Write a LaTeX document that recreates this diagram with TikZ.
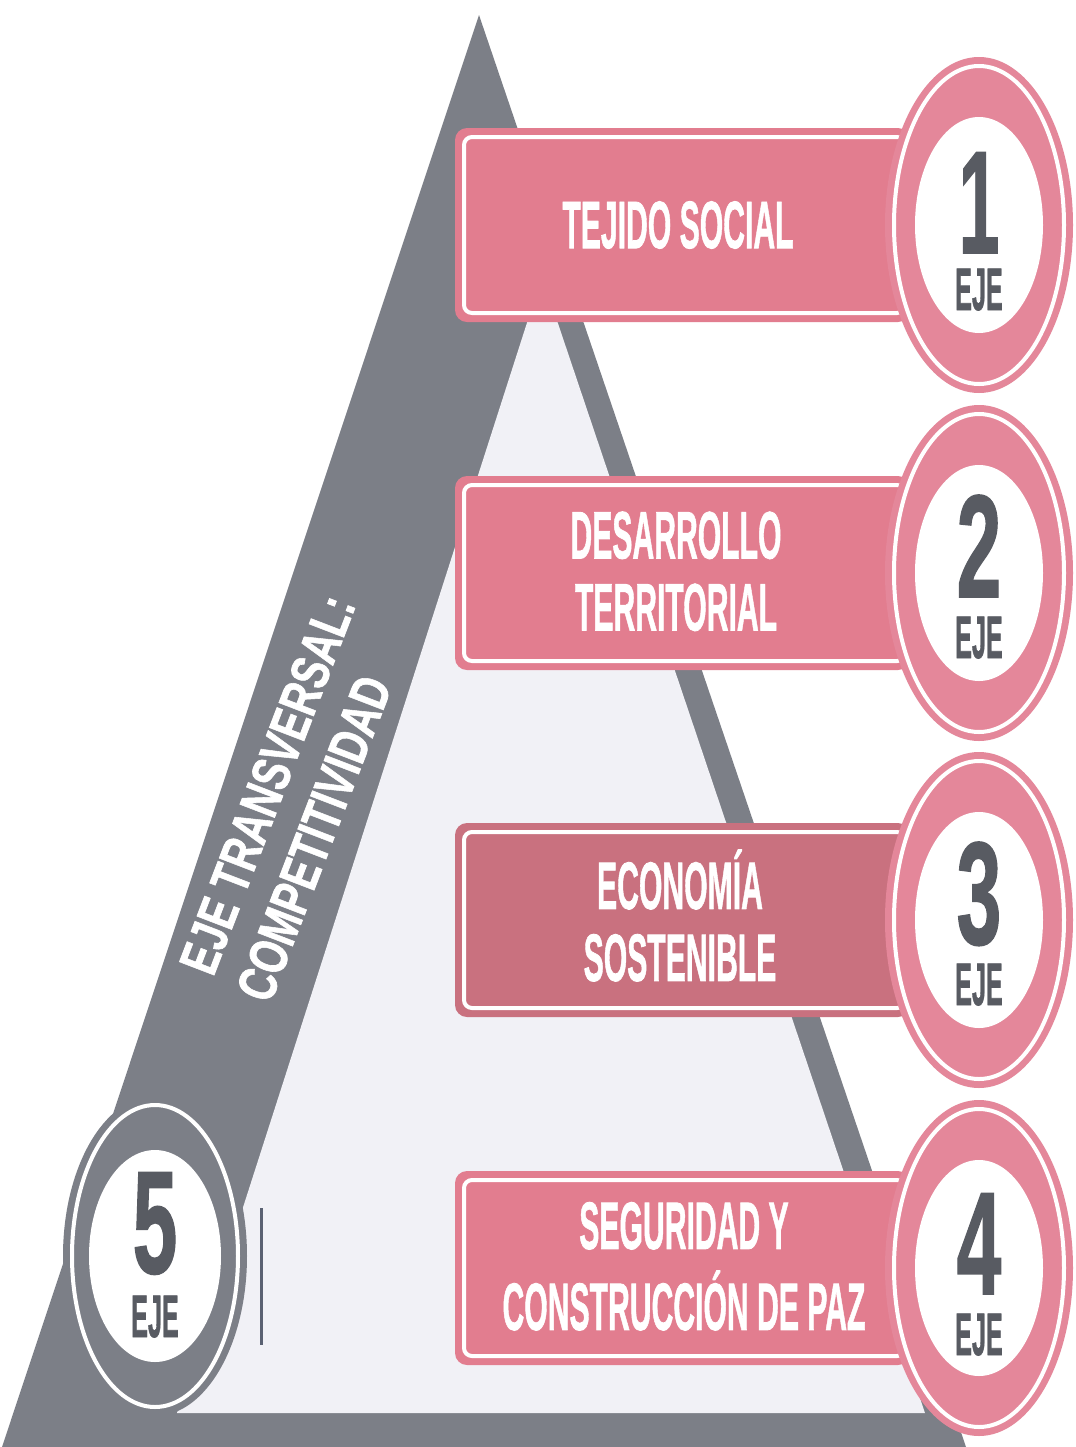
\documentclass[tikz,border=0pt]{standalone}
\usepackage{fontspec}
\usepackage{graphicx}
\newfontfamily\hv{Liberation Sans}[FakeBold=1.3]
\definecolor{trigray}{HTML}{7C7F87}
\definecolor{innerbg}{HTML}{F1F1F6}
\definecolor{boxpink}{HTML}{E27D8F}
\definecolor{boxmauve}{HTML}{C9717F}
\definecolor{ringpink}{HTML}{E4879A}
\definecolor{digitgray}{HTML}{585B62}
\definecolor{streak}{HTML}{5A6172}
\newcommand\sq[2]{\scalebox{#1}[1]{#2}}
\tikzset{
  boxtxt/.style={text=white, inner sep=0pt, font=\hv\bfseries\fontsize{33.5}{36}\selectfont},
  digit/.style={text=digitgray, inner sep=0pt, anchor=base, font=\hv\bfseries\fontsize{73}{80}\selectfont},
  ejetxt/.style={text=digitgray, inner sep=0pt, anchor=base, font=\hv\bfseries\fontsize{30}{32}\selectfont},
  diagtxt/.style={text=white, inner sep=0pt, anchor=base west, rotate=69, font=\hv\bfseries\fontsize{27}{29}\selectfont},
}
\begin{document}
\begin{tikzpicture}[x=0.5pt,y=-0.5pt]
\useasboundingbox (0,0) rectangle (1076,1447);
\fill[white] (0,0) rectangle (1076,1447);
% triangle
\fill[trigray] (479,15) -- (2,1447) -- (966,1447) -- cycle;
\fill[innerbg] (542,276) -- (177,1413) -- (925,1413) -- cycle;
\draw[streak, line width=1.5pt] (261,1208) -- (261,1345);
% boxes and circles
\foreach \cy/\bc in {225/boxpink, 573/boxpink, 920/boxmauve, 1268/boxpink}{
  \fill[\bc, rounded corners=6pt] (455,\cy-97) rectangle (910,\cy+97);
  \draw[white, line width=2pt, rounded corners=4pt] (464,\cy-88) rectangle (905,\cy+88);
  \fill[ringpink] (979,\cy) ellipse [x radius=94, y radius=168];
  \draw[white, line width=2pt] (979,\cy) ellipse [x radius=85, y radius=159];
  \fill[white] (979,\cy) ellipse [x radius=64, y radius=108];
}
% circle 5
\fill[trigray] (155,1256) ellipse [x radius=92, y radius=160];
\draw[white, line width=2pt] (155,1256) ellipse [x radius=83, y radius=151];
\fill[white] (155,1256) ellipse [x radius=66, y radius=106];
% box texts
\node[boxtxt] (t1) at (678,225) {\sq{0.45}{TEJIDO SOCIAL}};
\node[boxtxt] (t2) at (676,580) {\sq{0.45}{\begin{tabular}{@{}c@{}}DESARROLLO\\TERRITORIAL\end{tabular}}};
\node[boxtxt] (t3) at (680,926) {\sq{0.45}{\begin{tabular}{@{}c@{}}ECONOMÍA\\SOSTENIBLE\end{tabular}}};
\node[boxtxt] (t4) at (684,1275) {\sq{0.45}{\begin{tabular}{@{}c@{}}SEGURIDAD Y\\CONSTRUCCIÓN DE PAZ\end{tabular}}};
% circle texts
\node[digit] (d1) at (979,253) {\sq{0.5}{1}};
\node[ejetxt] (e1) at (979,310) {\sq{0.42}{EJE}};
\node[digit] (d2) at (979,597) {\sq{0.55}{2}};
\node[ejetxt] (e2) at (979,658) {\sq{0.42}{EJE}};
\node[digit] (d3) at (979,944) {\sq{0.55}{3}};
\node[ejetxt] (e3) at (979,1005) {\sq{0.42}{EJE}};
\node[digit] (d4) at (979,1294) {\sq{0.55}{4}};
\node[ejetxt] (e4) at (979,1355) {\sq{0.42}{EJE}};
\node[digit] (d5) at (155,1273) {\sq{0.55}{5}};
\node[ejetxt] (e5) at (155,1337) {\sq{0.42}{EJE}};
% diagonal text
\node[diagtxt] (dl1) at (213,978) {\sq{0.74}{EJE TRANSVERSAL:}};
\node[diagtxt] (dl2) at (270,1005) {\sq{0.74}{COMPETITIVIDAD}};
\end{tikzpicture}
\end{document}
